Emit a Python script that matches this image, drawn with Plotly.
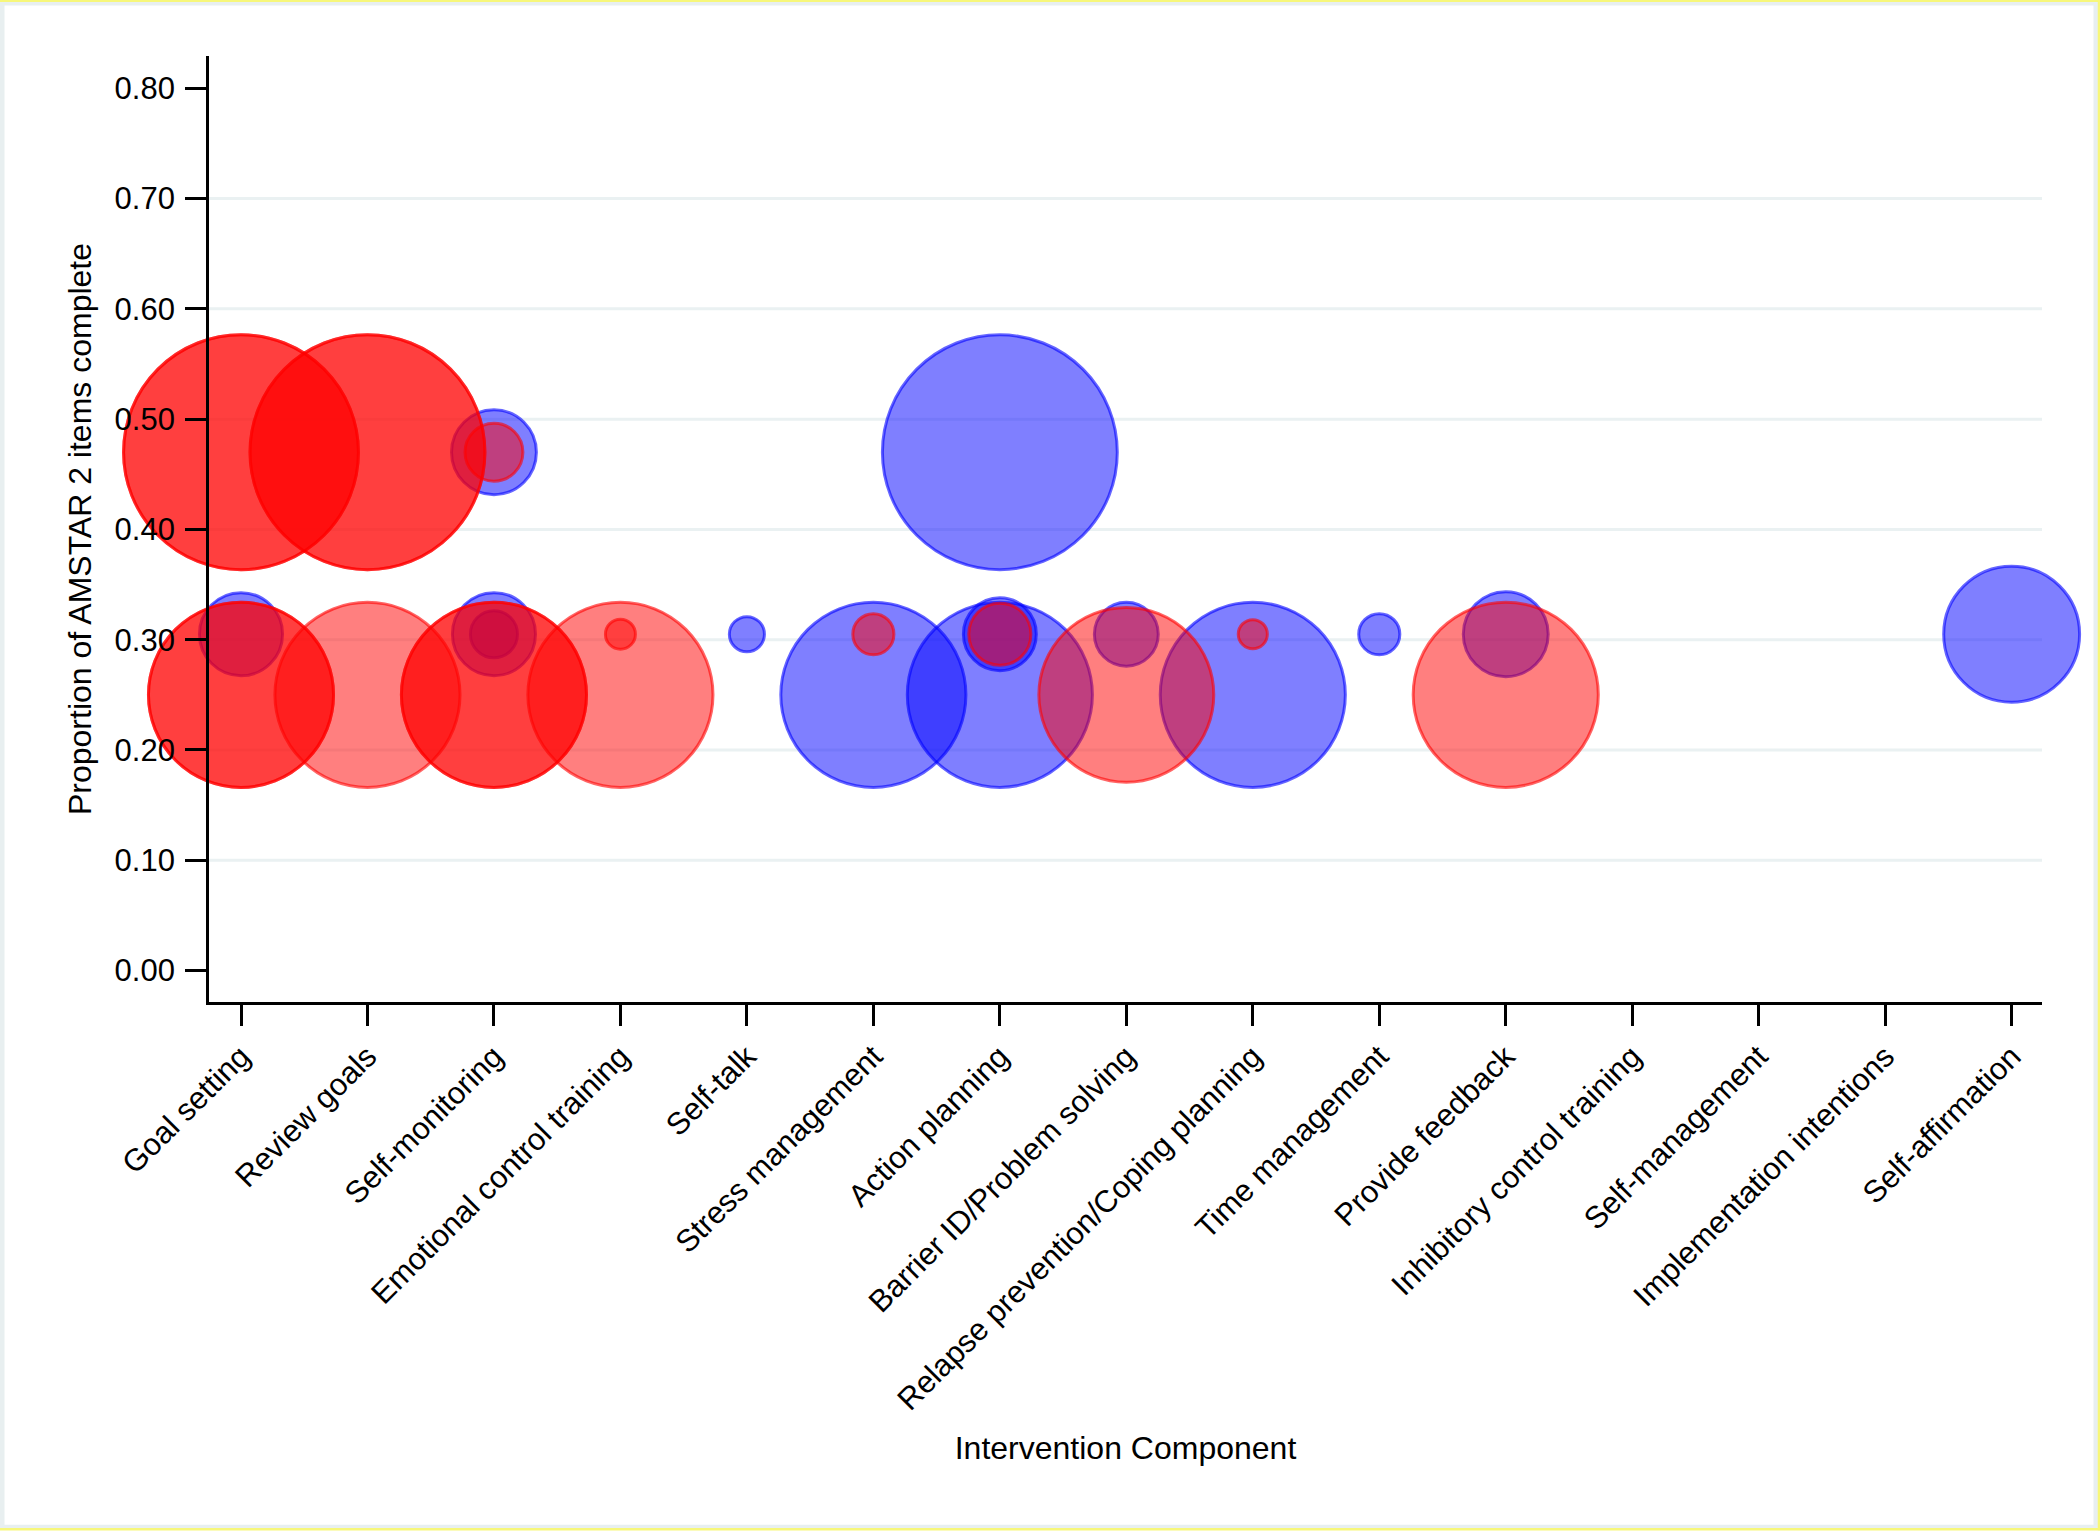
import plotly.graph_objects as go

# ---------------- data ----------------
categories = [
    "Goal setting", "Review goals", "Self-monitoring", "Emotional control training",
    "Self-talk", "Stress management", "Action planning", "Barrier ID/Problem solving",
    "Relapse prevention/Coping planning", "Time management", "Provide feedback",
    "Inhibitory control training", "Self-management", "Implementation intentions",
    "Self-affirmation",
]

# blue series
blue_component = [
    "Goal setting", "Self-monitoring", "Self-monitoring", "Self-monitoring", "Self-talk",
    "Stress management", "Action planning", "Action planning", "Action planning",
    "Barrier ID/Problem solving", "Relapse prevention/Coping planning", "Time management",
    "Provide feedback", "Self-affirmation",
]
blue_proportion = [0.305, 0.47, 0.305, 0.305, 0.305, 0.25, 0.47, 0.25, 0.305,
                   0.305, 0.25, 0.305, 0.305, 0.305]
blue_weight = [2.77, 2.83, 2.77, 1.57, 1.17, 6.17, 7.83, 6.17, 2.43,
               2.13, 6.17, 1.37, 2.83, 4.53]

# red series (first layer)
red_component = [
    "Goal setting", "Goal setting", "Review goals", "Review goals", "Self-monitoring",
    "Self-monitoring", "Emotional control training", "Emotional control training",
    "Stress management", "Action planning", "Barrier ID/Problem solving",
    "Relapse prevention/Coping planning", "Provide feedback",
]
red_proportion = [0.47, 0.25, 0.47, 0.25, 0.47, 0.25, 0.305, 0.25, 0.305, 0.305, 0.25, 0.305, 0.25]
red_weight = [7.83, 6.17, 7.83, 6.17, 1.93, 6.17, 1.0, 6.17, 1.37, 2.07, 5.83, 0.97, 6.17]

# red series (second, overlapping layer)
red2_component = ["Goal setting", "Goal setting", "Review goals", "Self-monitoring"]
red2_proportion = [0.47, 0.25, 0.47, 0.25]
red2_weight = [7.83, 6.17, 7.83, 6.17]

y_ticks = [0.0, 0.1, 0.2, 0.3, 0.4, 0.5, 0.6, 0.7, 0.8]
grid_values = [0.1, 0.2, 0.3, 0.4, 0.5, 0.6, 0.7]

# ---------------- figure ----------------
W, H = 2100, 1531
ML, MR, MT, MB = 209, 58, 56, 528.5
FONT = "Liberation Sans, Arial, sans-serif"
SIZEREF = 1 / 30.0
AXIS_W = 2.7

fig = go.Figure()


def bubble(xs, ys, ws, fill, line, name):
    fig.add_trace(go.Scatter(
        x=xs, y=ys, mode="markers", name=name, showlegend=False, cliponaxis=False,
        marker=dict(size=ws, sizemode="diameter", sizeref=SIZEREF, opacity=1,
                    color=fill, line=dict(color=line, width=3)),
    ))


bubble(blue_component, blue_proportion, blue_weight,
       "rgba(0,0,255,0.5)", "rgba(0,0,255,0.6)", "Blue")
bubble(red_component, red_proportion, red_weight,
       "rgba(255,0,0,0.5)", "rgba(255,0,0,0.6)", "Red")
bubble(red2_component, red2_proportion, red2_weight,
       "rgba(255,0,0,0.5)", "rgba(255,0,0,0.6)", "Red (2)")

for v in grid_values:
    fig.add_hline(y=v, line_color="#EAF1F2", line_width=3, layer="below")

# frame decoration (paper coordinates computed from pixel positions)
pw = W - ML - MR
ph = H - MT - MB


def px(x):
    return (x - ML) / pw


def py(y):
    return (H - MB - y) / ph


# keep the y-axis line visible on top of the (unclipped) bubbles
fig.add_shape(type="line", xref="paper", yref="paper",
              x0=px(ML - AXIS_W / 2), x1=px(ML - AXIS_W / 2), y0=0, y1=1,
              line=dict(color="black", width=AXIS_W), layer="above")

fig.add_shape(type="rect", xref="paper", yref="paper",
              x0=px(2), x1=px(2096), y0=py(1528), y1=py(3),
              line=dict(color="#E8EFF0", width=5), fillcolor="rgba(0,0,0,0)", layer="below")
for (x0, y0, x1, y1) in [(0, 0.8, W, 0.8), (W - 1, 0, W - 1, H), (0, H - 1, W, H - 1)]:
    fig.add_shape(type="line", xref="paper", yref="paper",
                  x0=px(x0), x1=px(x1), y0=py(y0), y1=py(y1),
                  line=dict(color="#F7F77A", width=2.5), layer="above")

fig.update_layout(
    width=W, height=H,
    margin=dict(l=ML, r=MR, t=MT, b=MB, pad=0),
    paper_bgcolor="white", plot_bgcolor="white",
    font=dict(family=FONT, size=31, color="black"),
    showlegend=False,
    xaxis=dict(
        type="category", categoryorder="array", categoryarray=categories,
        tickmode="array", tickvals=categories, ticktext=categories,
        range=[-0.253, 14.24], showgrid=False, zeroline=False,
        showline=True, linecolor="black", linewidth=AXIS_W,
        ticks="outside", ticklen=21, tickwidth=AXIS_W, tickcolor="black",
        tickangle=-45, tickfont=dict(size=31),
        title=dict(text="Intervention Component", font=dict(size=32), standoff=21),
    ),
    yaxis=dict(
        range=[-0.02855, 0.8293], tickmode="array", tickvals=y_ticks,
        tickformat=".2f", showgrid=False, zeroline=False,
        showline=True, linecolor="black", linewidth=AXIS_W,
        ticks="outside", ticklen=21, tickwidth=AXIS_W, tickcolor="black",
        tickfont=dict(size=31), ticklabelstandoff=4,
        title=dict(text="Proportion of AMSTAR 2 items complete", font=dict(size=32), standoff=14),
    ),
)

fig.write_html("out.html", config={"displayModeBar": False},
               post_script="document.body.style.margin='0';document.body.style.overflow='hidden';")
